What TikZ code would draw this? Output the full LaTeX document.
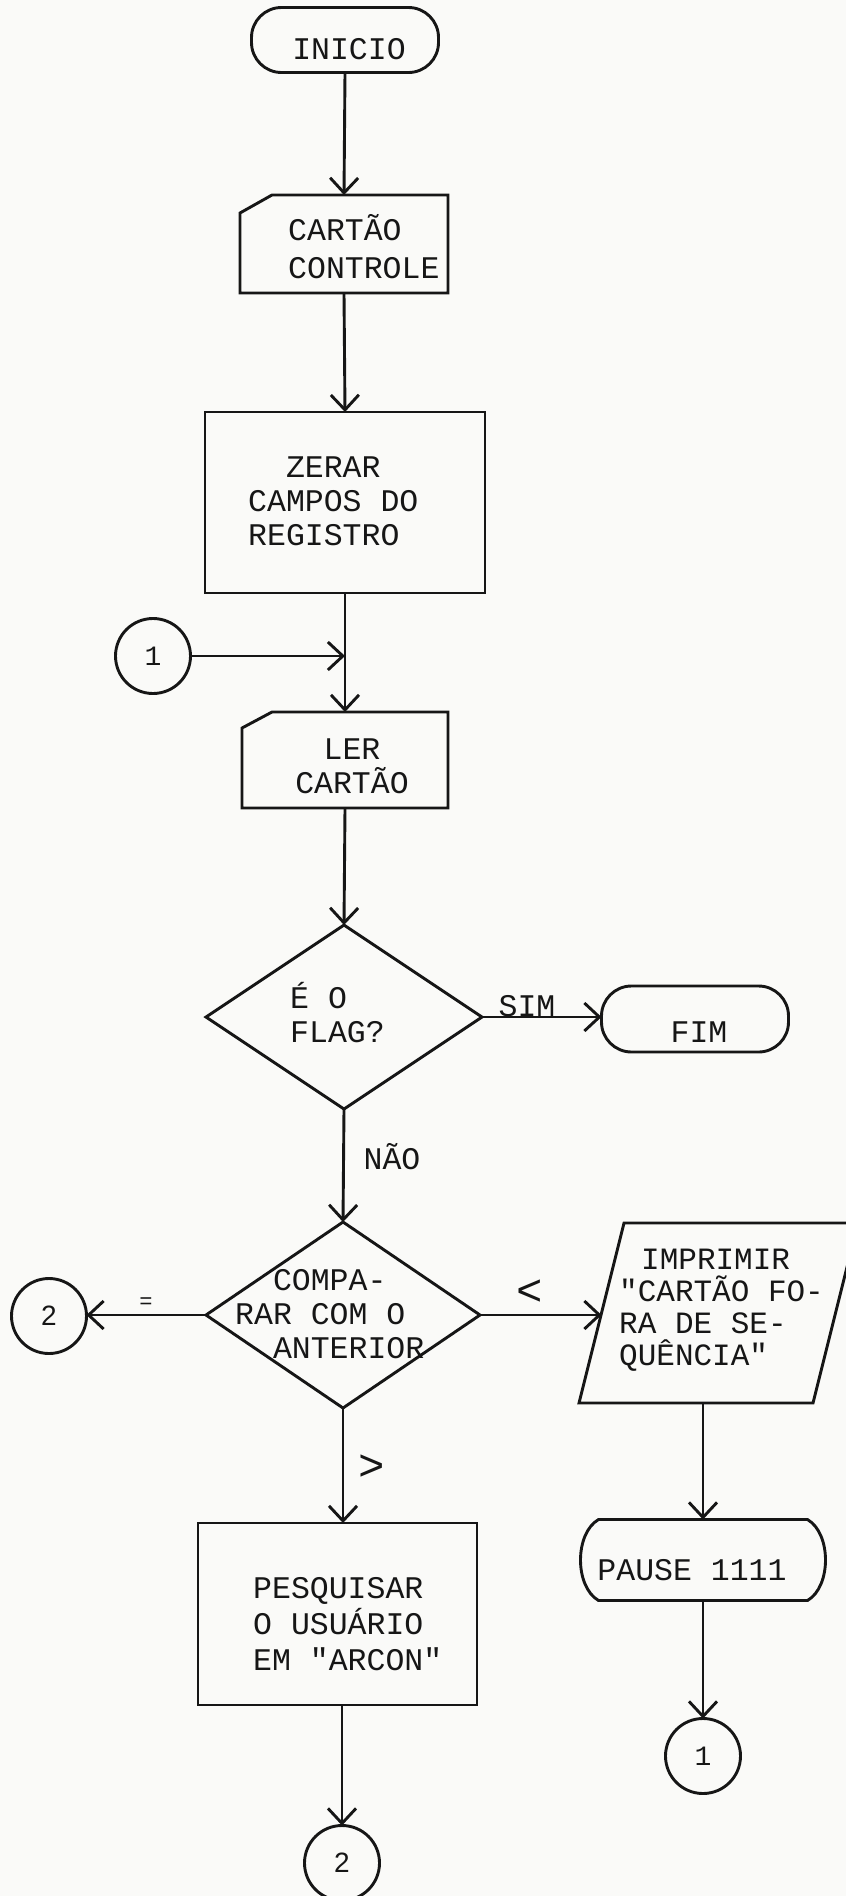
\documentclass[tikz,border=0pt]{standalone}
\usepackage{fontspec}
\setmainfont{Liberation Mono}[Ligatures=TeXOff]
\newfontfamily\digitfont{Liberation Sans}
\usetikzlibrary{arrows.meta,calc,shapes.geometric}
\definecolor{paper}{RGB}{250,250,248}
\definecolor{ink}{RGB}{22,22,22}
\begin{document}
\begin{tikzpicture}[x=1pt,y=-1pt,
  ln/.style={draw=ink,line width=2.9pt},
  arr/.style={ln,-{Straight Barb[length=15pt,width=28pt]}},
  txt/.style={font=\fontsize{31.5}{34}\selectfont,text=ink,inner sep=0pt},
  shp/.style={ln,inner sep=0pt,outer sep=0pt},
  ghost/.style={draw=none,inner sep=0pt,outer sep=0pt},
  term/.style={shp,rectangle,rounded corners=30pt},
  proc/.style={shp,rectangle},
  dec/.style={shp,diamond},
  conn/.style={shp,circle,minimum size=75pt,font=\fontsize{28}{28}\selectfont,text=ink},
]
\fill[paper] (0,0) rectangle (846,1896);
\useasboundingbox (0,0) rectangle (846,1896);

% ---------- shapes ----------
\node[term,minimum width=187,minimum height=65] (inicio) at (345,40) {};
\node[ghost,minimum width=208,minimum height=98] (card1) at (344,244) {};
\draw[ln] ($(card1.north west)+(0,18)$) -- ($(card1.north west)+(32,0)$) -- (card1.north east) -- (card1.south east) -- (card1.south west) -- cycle;
\node[proc,minimum width=280,minimum height=181] (zerar) at (345,502.5) {};
\node[conn] (c1) at (153,656) {1};
\node[ghost,minimum width=206,minimum height=96] (lerc) at (345,760) {};
\draw[ln] ($(lerc.north west)+(0,16)$) -- ($(lerc.north west)+(30,0)$) -- (lerc.north east) -- (lerc.south east) -- (lerc.south west) -- cycle;
\node[dec,minimum width=276,minimum height=184] (d1) at (344,1017) {};
\node[term,minimum width=187,minimum height=66] (fim) at (695,1019) {};
\node[dec,minimum width=274,minimum height=186] (d2) at (343,1315) {};
\node[conn,font=\digitfont\fontsize{28}{28}\selectfont] (c2a) at (49,1316) {2};
\node[ghost,minimum width=279,minimum height=180] (imp) at (718.5,1313) {};
\draw[ln] ($(imp.north west)+(45,0)$) -- (imp.north east) -- ($(imp.south east)+(-45,0)$) -- (imp.south west) -- cycle;
\coordinate (impin) at ($(imp.west)+(22.5,0)$);
\node[proc,minimum width=279,minimum height=182] (pesq) at (337.5,1614) {};
\node[ghost,minimum width=209,minimum height=81] (pause) at (703,1560) {};
\draw[ln] (pause.north west) -- (pause.north east) .. controls +(24,14) and +(24,-14) .. (pause.south east) -- (pause.south west) .. controls +(-24,-14) and +(-24,14) .. (pause.north west) -- cycle;
\node[conn] (c1b) at (703,1756) {1};
\node[conn,font=\digitfont\fontsize{28}{28}\selectfont] (c2b) at (342,1863) {2};

% ---------- texts in shapes ----------
\node[txt] (inicio-t) at (349,49) {INICIO};
\node[txt,align=left,anchor=west,font=\fontsize{31.5}{38}\selectfont] (card1-t) at (288,247) {CARTÃO\\CONTROLE};
\node[txt,align=left,anchor=west] (zerar-t) at (248,501) {\hphantom{CA}ZERAR\\CAMPOS DO\\REGISTRO};
\node[txt,align=center] (lerc-t) at (352,766) {LER\\CARTÃO};
\node[txt,align=left,anchor=west] (d1-t) at (290,1013) {É O\\FLAG?};
\node[txt] (fim-t) at (699,1032) {FIM};
\node[txt,align=left,anchor=west] (d2-t) at (235,1314) {\hphantom{RA}COMPA-\\RAR COM O\\\hphantom{RA}ANTERIOR};
\node[txt,align=left,anchor=west,font=\fontsize{31}{32}\selectfont] (imp-t) at (619,1310) {\hspace*{22pt}IMPRIMIR\\"CARTÃO FO-\\RA DE SE-\\QUÊNCIA"};
\node[txt,align=left,anchor=west,font=\fontsize{31.5}{36}\selectfont] (pesq-t) at (253,1624) {PESQUISAR\\O USUÁRIO\\EM "ARCON"};
\node[txt] (pause-t) at (692,1570) {PAUSE 1111};

% ---------- connectors ----------
\draw[arr] (inicio.south) -- (card1.north);
\draw[arr] (card1.south) -- (zerar.north);
\draw[arr] (zerar.south) -- (lerc.north);
\draw[arr] (c1) -- (c1 -| lerc.north);
\draw[arr] (lerc.south) -- (d1.north);
\draw[arr] (d1.east) -- (d1.east -| fim.west);
\draw[arr] (d1.south) -- (d2.north);
\draw[arr] (d2.west) -- (d2.west -| c2a.east);
\draw[arr] (d2.east) -- (d2.east -| impin);
\draw[arr] (d2.south) -- (d2.south |- pesq.north);
\draw[arr] (imp.south -| pause.north) -- (pause.north);
\draw[arr] (pause.south) -- (c1b.north);
\draw[arr] (pesq.south -| c2b.north) -- (c2b.north);

% ---------- connector labels ----------
\node[txt] (sim) at (527,1006) {SIM};
\node[txt] (nao) at (392,1157) {NÃO};
\node[txt,font=\fontsize{22}{22}\selectfont] (eq) at (146,1303) {=};
\node[txt,font=\fontsize{44}{44}\selectfont] (lt) at (530,1293) {<};
\node[txt,font=\fontsize{44}{44}\selectfont] (gt) at (372,1468) {>};
\end{tikzpicture}
\end{document}
